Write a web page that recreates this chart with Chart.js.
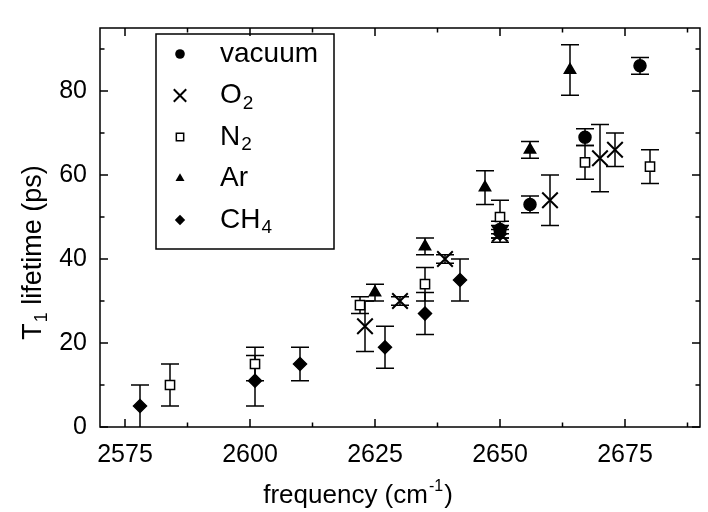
<!DOCTYPE html>
<html>
<head>
<meta charset="utf-8">
<style>
  html, body { margin: 0; padding: 0; background: #fff; overflow: hidden; }
  #wrap { width: 708px; height: 512px; overflow: hidden; }
</style>
<script src="https://cdn.jsdelivr.net/npm/chart.js@4/dist/chart.umd.min.js"></script>
</head>
<body>
<div id="wrap"><canvas id="t1Chart" width="713" height="512"></canvas></div>
<script>
// data (frequency in cm-1, T1 in ps, symmetric error)
var vacuumX = [2650, 2656, 2667, 2678];
var vacuumY = [47, 53, 69, 86];
var vacuumErr = [2, 2, 2, 2];

var o2X = [2623, 2630, 2639, 2650, 2660, 2670, 2673];
var o2Y = [24, 30, 40, 46, 54, 64, 66];
var o2Err = [6, 1, 1, 1, 6, 8, 4];

var n2X = [2584, 2601, 2622, 2635, 2650, 2667, 2680];
var n2Y = [10, 15, 29, 34, 50, 63, 62];
var n2Err = [5, 4, 2, 4, 4, 4, 4];

var arX = [2625, 2635, 2647, 2656, 2664];
var arY = [32, 43, 57, 66, 85];
var arErr = [2, 2, 4, 2, 6];

var ch4X = [2578, 2601, 2610, 2627, 2635, 2642, 2650];
var ch4Y = [5, 11, 15, 19, 27, 35, 46];
var ch4Err = [5, 6, 4, 5, 5, 5, 2];

var xTicks = [2575, 2600, 2625, 2650, 2675];
var xMinorTicks = [2587.5, 2612.5, 2637.5, 2662.5, 2687.5];
var yTicks = [0, 20, 40, 60, 80];
var yMinorTicks = [10, 30, 50, 70, 90];

var FONT = "'Liberation Sans', Arial, Helvetica, sans-serif";

function pts(xs, ys) {
    return xs.map(function (x, i) { return { x: x, y: ys[i] }; });
}

function series(label, xs, ys, errs, style, radius, fill) {
    return {
        label: label,
        data: pts(xs, ys),
        errors: errs,
        pointStyle: style,
        pointRadius: radius,
        pointHoverRadius: radius,
        backgroundColor: fill,
        borderColor: '#000',
        pointBorderWidth: style === 'crossRot' ? 2 : 1.5,
        showLine: false,
        legendRadius: radius * 0.8
    };
}

var datasets = [
    series('vacuum', vacuumX, vacuumY, vacuumErr, 'circle', 6, '#000'),
    series('O₂', o2X, o2Y, o2Err, 'crossRot', 11, '#000'),
    series('N₂', n2X, n2Y, n2Err, 'rect', 6.5, '#fff'),
    series('Ar', arX, arY, arErr, 'triangle', 6.5, '#000'),
    series('CH₄', ch4X, ch4Y, ch4Err, 'rectRot', 6.5, '#000')
];

// text with unicode subscript digits drawn as small lowered digits
function drawSubText(ctx, str, x, y, size) {
    var subs = '₀₁₂₃₄₅₆₇₈₉';
    var cx = x;
    for (var i = 0; i < str.length; i++) {
        var ch = str[i];
        var k = subs.indexOf(ch);
        if (k >= 0) {
            ctx.font = Math.round(size * 0.68) + 'px ' + FONT;
            ctx.fillText(String(k), cx + 1, y + size * 0.28);
            cx += ctx.measureText(String(k)).width + 1;
        } else {
            ctx.font = size + 'px ' + FONT;
            ctx.fillText(ch, cx, y);
            cx += ctx.measureText(ch).width;
        }
    }
}

function drawMarker(ctx, style, x, y, r) {
    ctx.save();
    ctx.fillStyle = '#000';
    ctx.strokeStyle = '#000';
    ctx.lineWidth = 1.5;
    ctx.beginPath();
    if (style === 'circle') {
        ctx.arc(x, y, r, 0, Math.PI * 2);
        ctx.fill();
    } else if (style === 'crossRot') {
        var d = r * Math.SQRT1_2;
        ctx.lineWidth = 2;
        ctx.moveTo(x - d, y - d); ctx.lineTo(x + d, y + d);
        ctx.moveTo(x - d, y + d); ctx.lineTo(x + d, y - d);
        ctx.stroke();
    } else if (style === 'rect') {
        var s = r * Math.SQRT1_2;
        ctx.fillStyle = '#fff';
        ctx.rect(x - s, y - s, 2 * s, 2 * s);
        ctx.fill(); ctx.stroke();
    } else if (style === 'triangle') {
        ctx.moveTo(x, y - r);
        ctx.lineTo(x + r * 0.866, y + r * 0.5);
        ctx.lineTo(x - r * 0.866, y + r * 0.5);
        ctx.closePath();
        ctx.fill();
    } else if (style === 'rectRot') {
        ctx.moveTo(x, y - r); ctx.lineTo(x + r, y);
        ctx.lineTo(x, y + r); ctx.lineTo(x - r, y);
        ctx.closePath();
        ctx.fill();
    }
    ctx.restore();
}

var framePlugin = {
    id: 'frame',
    beforeDatasetsDraw: function (chart) {
        // error bars with caps, under the markers
        var ctx = chart.ctx, xs = chart.scales.x, ys = chart.scales.y;
        ctx.save();
        ctx.strokeStyle = '#000';
        ctx.lineWidth = 1.5;
        chart.data.datasets.forEach(function (ds) {
            ds.data.forEach(function (p, i) {
                var e = ds.errors[i];
                if (!e) return;
                var px = xs.getPixelForValue(p.x);
                var top = ys.getPixelForValue(p.y + e);
                var bot = ys.getPixelForValue(Math.max(0, p.y - e));
                ctx.beginPath();
                ctx.moveTo(px, top); ctx.lineTo(px, bot);
                ctx.moveTo(px - 9, top); ctx.lineTo(px + 9, top);
                if (p.y - e > 0) { ctx.moveTo(px - 9, bot); ctx.lineTo(px + 9, bot); }
                ctx.stroke();
            });
        });
        ctx.restore();
    },
    afterDraw: function (chart) {
        var ctx = chart.ctx, a = chart.chartArea;
        var xs = chart.scales.x, ys = chart.scales.y;
        ctx.save();
        ctx.strokeStyle = '#000';
        ctx.lineWidth = 1.5;
        ctx.strokeRect(a.left, a.top, a.right - a.left, a.bottom - a.top);

        // inward ticks on all four sides
        ctx.beginPath();
        function xt(v, len) {
            var px = xs.getPixelForValue(v);
            ctx.moveTo(px, a.bottom); ctx.lineTo(px, a.bottom - len);
            ctx.moveTo(px, a.top); ctx.lineTo(px, a.top + len);
        }
        function yt(v, len) {
            var py = ys.getPixelForValue(v);
            ctx.moveTo(a.left, py); ctx.lineTo(a.left + len, py);
            ctx.moveTo(a.right, py); ctx.lineTo(a.right - len, py);
        }
        xTicks.forEach(function (v) { xt(v, 8); });
        xMinorTicks.forEach(function (v) { xt(v, 4.5); });
        yTicks.forEach(function (v) { yt(v, 8); });
        yMinorTicks.forEach(function (v) { yt(v, 4.5); });
        ctx.stroke();

        // legend
        var lx = 156, ly = 34, lw = 178, lh = 215;
        ctx.lineWidth = 1.5;
        ctx.strokeRect(lx, ly, lw, lh);
        ctx.fillStyle = '#000';
        ctx.textBaseline = 'middle';
        ctx.textAlign = 'left';
        chart.data.datasets.forEach(function (ds, i) {
            var rowY = 54 + i * 41.5;
            drawMarker(ctx, ds.pointStyle, 180, rowY, ds.legendRadius);
            drawSubText(ctx, ds.label, 220, rowY, 28);
        });

        // axis titles
        ctx.textBaseline = 'alphabetic';
        ctx.font = '26px ' + FONT;
        var base = 'frequency (cm';
        var w1 = ctx.measureText(base).width;
        ctx.font = '16px ' + FONT;
        var w2 = ctx.measureText('-1').width;
        ctx.font = '26px ' + FONT;
        var w3 = ctx.measureText(')').width;
        var sx = 357 - (w1 + w2 + w3) / 2, by = 503;
        ctx.fillText(base, sx, by);
        ctx.font = '16px ' + FONT;
        ctx.fillText('-1', sx + w1 + 1, by - 12);
        ctx.font = '26px ' + FONT;
        ctx.fillText(')', sx + w1 + w2 + 2, by);

        ctx.translate(41, 253);
        ctx.rotate(-Math.PI / 2);
        ctx.font = '27px ' + FONT;
        var t1 = ctx.measureText('T').width;
        ctx.font = '18px ' + FONT;
        var t2 = ctx.measureText('1').width;
        ctx.font = '27px ' + FONT;
        var t3 = ctx.measureText(' lifetime (ps)').width;
        var tx = -(t1 + t2 + t3) / 2;
        ctx.fillText('T', tx, 0);
        ctx.font = '18px ' + FONT;
        ctx.fillText('1', tx + t1 + 1, 6);
        ctx.font = '27px ' + FONT;
        ctx.fillText(' lifetime (ps)', tx + t1 + t2 + 1, 0);
        ctx.restore();
    }
};

new Chart(document.getElementById('t1Chart'), {
    type: 'scatter',
    data: { datasets: datasets },
    options: {
        responsive: false,
        animation: false,
        layout: { padding: { top: 11, right: 1, left: 0, bottom: 0 } },
        plugins: { legend: { display: false }, tooltip: { enabled: false } },
        scales: {
            x: {
                type: 'linear',
                min: 2570,
                max: 2690,
                afterBuildTicks: function (s) { s.ticks = xTicks.map(function (v) { return { value: v }; }); },
                afterFit: function (s) { s.height = 85; },
                grid: { display: false, drawTicks: false },
                border: { display: false },
                ticks: {
                    color: '#000', padding: 13, maxRotation: 0,
                    font: { family: FONT, size: 25 },
                    callback: function (v) { return String(v); }
                }
            },
            y: {
                type: 'linear',
                min: 0,
                max: 95,
                afterBuildTicks: function (s) { s.ticks = yTicks.map(function (v) { return { value: v }; }); },
                afterFit: function (s) { s.width = 100; },
                grid: { display: false, drawTicks: false },
                border: { display: false },
                ticks: {
                    color: '#000', padding: 13,
                    font: { family: FONT, size: 25 },
                    callback: function (v) { return String(v); }
                }
            }
        }
    },
    plugins: [framePlugin]
});
</script>
</body>
</html>
